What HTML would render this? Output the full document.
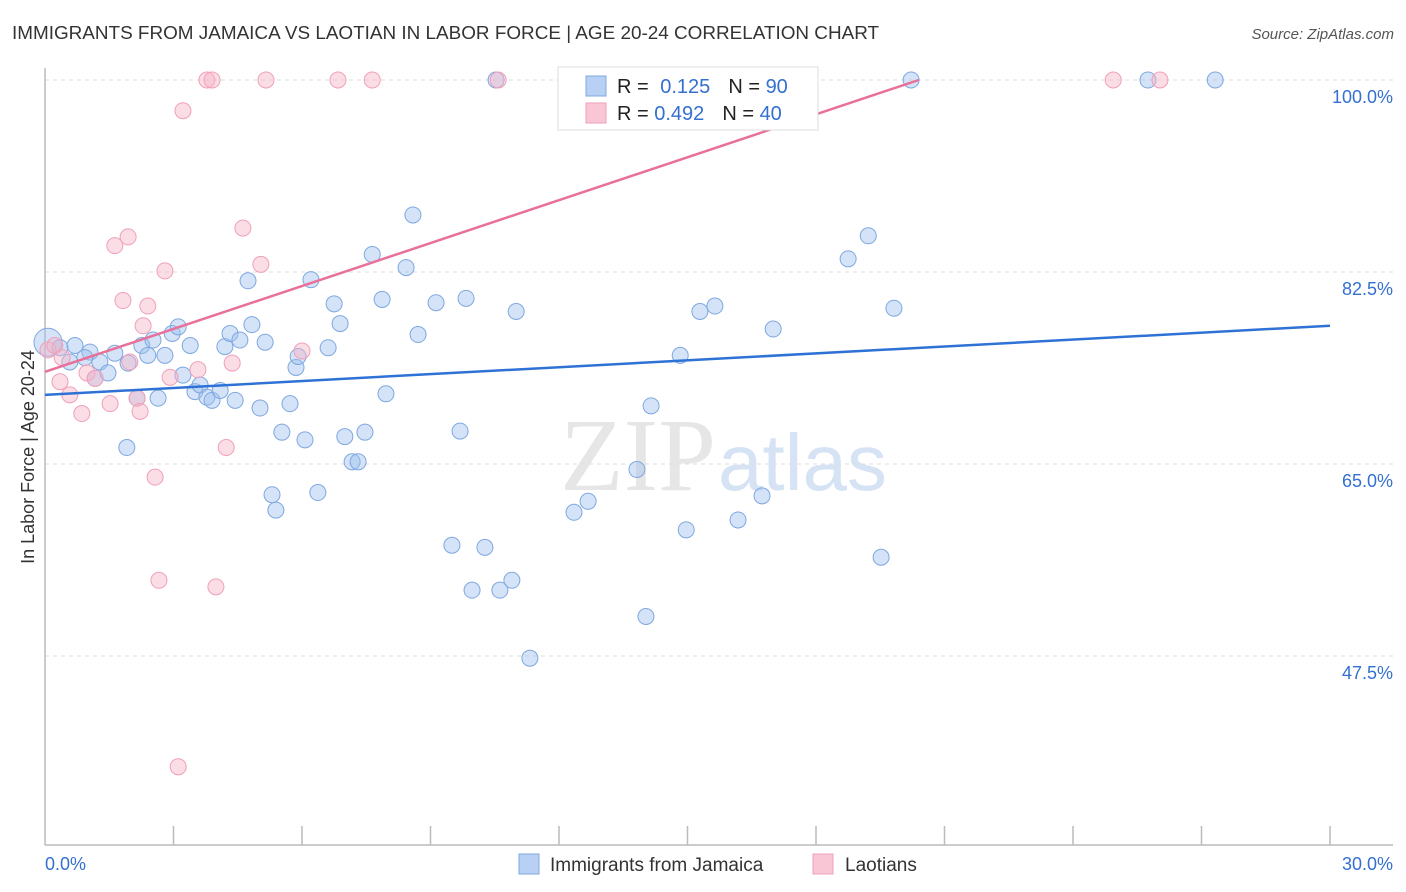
<!DOCTYPE html>
<html><head><meta charset="utf-8">
<style>
body{margin:0;background:#fff;font-family:"Liberation Sans",sans-serif;}
#wrap{position:relative;width:1406px;height:892px;overflow:hidden;}
</style></head>
<body>
<div id="wrap">
<svg id="chart" width="1406" height="892">
<text x="12" y="39" font-size="18.9" fill="#333">IMMIGRANTS FROM JAMAICA VS LAOTIAN IN LABOR FORCE | AGE 20-24 CORRELATION CHART</text>
<text x="1394" y="39" font-size="15" fill="#555" font-style="italic" text-anchor="end">Source: ZipAtlas.com</text>
<text x="716" y="490" font-size="104" fill="#e6e6e6" font-family="Liberation Serif" text-anchor="end">ZIP</text>
<text x="718" y="490" font-size="80" fill="#d5e3f5">atlas</text>
<g id="grid"></g>
<g id="axes"></g>
<g id="pts"></g>
<g id="lines"></g>
<text transform="translate(34,457) rotate(-90)" font-size="18" fill="#333" text-anchor="middle">In Labor Force | Age 20-24</text>
<g>
<rect x="558" y="67" width="260" height="63" fill="#fff" stroke="#ddd"/>
<rect x="586" y="76" width="20" height="20" fill="#b8d0f3" stroke="#7fa8e0"/>
<rect x="586" y="103" width="20" height="20" fill="#f8c6d4" stroke="#f0a0b8"/>
<text x="617" y="93" font-size="20" fill="#222">R = <tspan fill="#3470d0" dx="6">0.125</tspan><tspan dx="18">N = </tspan><tspan fill="#3470d0">90</tspan></text>
<text x="617" y="120" font-size="20" fill="#222">R = <tspan fill="#3470d0">0.492</tspan><tspan dx="18">N = </tspan><tspan fill="#3470d0">40</tspan></text>
</g>
<g>
<rect x="519" y="854" width="20" height="20" fill="#b8d0f3" stroke="#7fa8e0"/>
<text x="550" y="871" font-size="19" fill="#333">Immigrants from Jamaica</text>
<rect x="813" y="854" width="20" height="20" fill="#f8c6d4" stroke="#f0a0b8"/>
<text x="845" y="871" font-size="19" fill="#333">Laotians</text>
</g>
</svg>
</div>
<script>
const yTicks=[100,82.5,65,47.5];
const yTickLabels=["100.0%","82.5%","65.0%","47.5%"];
const xTickLabels=["0.0%","30.0%"];
const blueX=[0.07,0.35,0.70,1.05,0.58,0.93,1.28,1.17,1.47,1.63,1.94,1.91,2.15,2.26,2.40,2.52,2.80,2.64,2.97,3.11,3.22,3.39,3.50,3.62,3.78,3.90,4.09,4.20,4.32,4.44,4.55,4.74,4.83,5.02,5.14,5.30,5.39,5.53,5.72,5.86,5.91,6.07,6.21,6.37,6.61,6.75,6.89,7.00,7.17,7.31,7.47,7.64,7.87,7.96,8.43,8.59,8.71,9.13,9.50,9.69,9.83,9.97,10.27,10.53,10.62,10.90,11.00,11.32,12.35,12.68,13.82,14.03,14.15,14.83,14.97,15.29,15.64,16.18,16.74,17.00,18.75,19.22,19.52,19.82,20.22,25.75,27.32];
const blueY=[76.1,75.6,75.8,75.2,74.3,74.7,74.3,72.8,73.3,75.1,74.2,66.5,71.0,75.8,74.9,76.3,74.9,71.0,76.9,77.5,73.1,75.8,71.6,72.2,71.1,70.8,71.7,75.7,76.9,70.8,76.3,81.7,77.7,70.1,76.1,62.2,60.8,67.9,70.5,73.8,74.8,67.2,81.8,62.4,75.6,79.6,77.8,67.5,65.2,65.2,67.9,84.1,80.0,71.4,82.9,87.7,76.8,79.7,57.6,68.0,80.1,53.5,57.4,100,53.5,54.4,78.9,47.3,60.6,61.6,64.5,51.1,70.3,74.9,59.0,78.9,79.4,59.9,62.1,77.3,83.7,85.8,56.5,79.2,100,100,100];
const pinkX=[0.07,0.23,0.40,0.35,0.58,0.86,0.98,1.17,1.52,1.63,1.82,1.94,1.98,2.15,2.22,2.29,2.40,2.57,2.66,2.80,2.92,3.22,3.57,3.78,3.90,3.99,4.23,4.37,4.62,5.04,5.16,6.00,6.84,7.64,3.11,10.58,24.94,26.03];
const pinkY=[75.4,75.8,74.7,72.5,71.3,69.6,73.3,72.8,70.5,84.9,79.9,85.7,74.3,71.0,69.8,77.6,79.4,63.8,54.4,82.6,72.9,97.2,73.6,100,100,53.8,66.5,74.2,86.5,83.2,100,75.3,100,100,37.4,100,100,100];
const blueTrend=[0,71.3,30,77.6];
const pinkTrend=[0,73.4,20.4,100];
const NS="http://www.w3.org/2000/svg";
const sx=v=>45+v*1285/30;
const sy=v=>80+(100-v)*192/17.5;
function mk(tag,attrs,parent){const e=document.createElementNS(NS,tag);for(const k in attrs)e.setAttribute(k,attrs[k]);parent.appendChild(e);return e;}
const grid=document.getElementById('grid'),axes=document.getElementById('axes'),pts=document.getElementById('pts'),lines=document.getElementById('lines');
yTicks.forEach((t,i)=>{
 const l=mk('line',{x1:45,x2:1393,y1:sy(t),y2:sy(t),stroke:'#ddd','stroke-dasharray':'4,4'},grid);
 
 
 const tx=mk('text',{x:1393,y:sy(t)+23,'font-size':18,fill:'#3470d0','text-anchor':'end'},axes);
 tx.textContent=yTickLabels[i];
 
 
});
const ya=mk('line',{x1:45,x2:45,y1:68,y2:845,stroke:'#bbb','stroke-width':1.5},axes);


const xa=mk('line',{x1:45,x2:1393,y1:845,y2:845,stroke:'#bbb','stroke-width':1.5},axes);


for(let i=1;i<=10;i++){
 const t=mk('line',{x1:sx(i*3),x2:sx(i*3),y1:826,y2:845,stroke:'#bbb','stroke-width':1.5},axes);
 
 
}
[[0,'start',45],[30,'end',1393]].forEach((d,i)=>{
 const tx=mk('text',{x:d[2],y:870,'font-size':18,fill:'#3470d0','text-anchor':d[1]},axes);
 tx.textContent=xTickLabels[i];
 
 
});
blueX.forEach((x,i)=>{
 const c=mk('circle',{cx:sx(x),cy:sy(blueY[i]),r:i==0?14:8,fill:'rgba(160,192,238,0.45)',stroke:'#7fa8e0','stroke-width':1},pts);
 
 
});
pinkX.forEach((x,i)=>{
 const c=mk('circle',{cx:sx(x),cy:sy(pinkY[i]),r:8,fill:'rgba(246,180,200,0.45)',stroke:'#f0a0b8','stroke-width':1},pts);
 
 
});
const bl=mk('line',{x1:sx(blueTrend[0]),y1:sy(blueTrend[1]),x2:sx(blueTrend[2]),y2:sy(blueTrend[3]),stroke:'#2f72d6','stroke-width':2.5},lines);


const pl=mk('line',{x1:sx(pinkTrend[0]),y1:sy(pinkTrend[1]),x2:sx(pinkTrend[2]),y2:sy(pinkTrend[3]),stroke:'#e8709a','stroke-width':2.5},lines);


</script>
</body></html>
